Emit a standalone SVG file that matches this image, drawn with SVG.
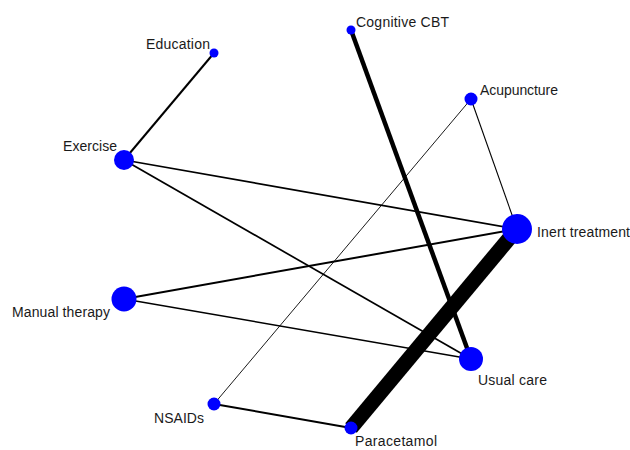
<svg xmlns="http://www.w3.org/2000/svg" width="630" height="450" viewBox="0 0 630 450">
  <style>
    .edge { stroke: #000; fill: none; stroke-linecap: butt; }
    .node { fill: #0000ff; }
    .label { font-family: "Liberation Sans", Arial, sans-serif; font-size: 14px; fill: #1a1a1a; }
  </style>
  <rect width="630" height="450" fill="#fff"/>

  <!-- connectors: stroke width follows number of comparisons -->
  <g id="connectors">
    <line class="edge" x1="351" y1="428" x2="517" y2="229" stroke-width="15"/>
    <line class="edge" x1="351" y1="30" x2="471" y2="359" stroke-width="4.5"/>
    <line class="edge" x1="214" y1="53" x2="124" y2="160" stroke-width="2"/>
    <line class="edge" x1="124" y1="160" x2="517" y2="229" stroke-width="1.7"/>
    <line class="edge" x1="124" y1="160" x2="471" y2="359" stroke-width="1.7"/>
    <line class="edge" x1="124" y1="299" x2="517" y2="229" stroke-width="2"/>
    <line class="edge" x1="124" y1="299" x2="471" y2="359" stroke-width="1.4"/>
    <line class="edge" x1="471" y1="99" x2="517" y2="229" stroke-width="1.1"/>
    <line class="edge" x1="471" y1="99" x2="214" y2="404" stroke-width="0.9" stroke="#555"/>
    <line class="edge" x1="214" y1="404" x2="351" y2="428" stroke-width="2"/>
  </g>

  <g id="education"><circle class="node" cx="214" cy="53" r="4.5"/><text class="label" x="146" y="49" textLength="64">Education</text></g>
  <g id="cognitive-cbt"><circle class="node" cx="351" cy="30" r="4.5"/><text class="label" x="356" y="27" textLength="93">Cognitive CBT</text></g>
  <g id="acupuncture"><circle class="node" cx="471" cy="99" r="6.5"/><text class="label" x="480" y="95" textLength="78">Acupuncture</text></g>
  <g id="exercise"><circle class="node" cx="124" cy="160" r="10"/><text class="label" x="63" y="151" textLength="54">Exercise</text></g>
  <g id="inert-treatment"><circle class="node" cx="517" cy="229" r="15"/><text class="label" x="537" y="237" textLength="93">Inert treatment</text></g>
  <g id="manual-therapy"><circle class="node" cx="124" cy="299" r="12.5"/><text class="label" x="12" y="317" textLength="98">Manual therapy</text></g>
  <g id="usual-care"><circle class="node" cx="471" cy="359" r="12"/><text class="label" x="478" y="385" textLength="69">Usual care</text></g>
  <g id="nsaids"><circle class="node" cx="214" cy="404" r="6.5"/><text class="label" x="154" y="423" textLength="50">NSAIDs</text></g>
  <g id="paracetamol"><circle class="node" cx="351" cy="428" r="6.5"/><text class="label" x="355" y="446" textLength="82">Paracetamol</text></g>
</svg>
